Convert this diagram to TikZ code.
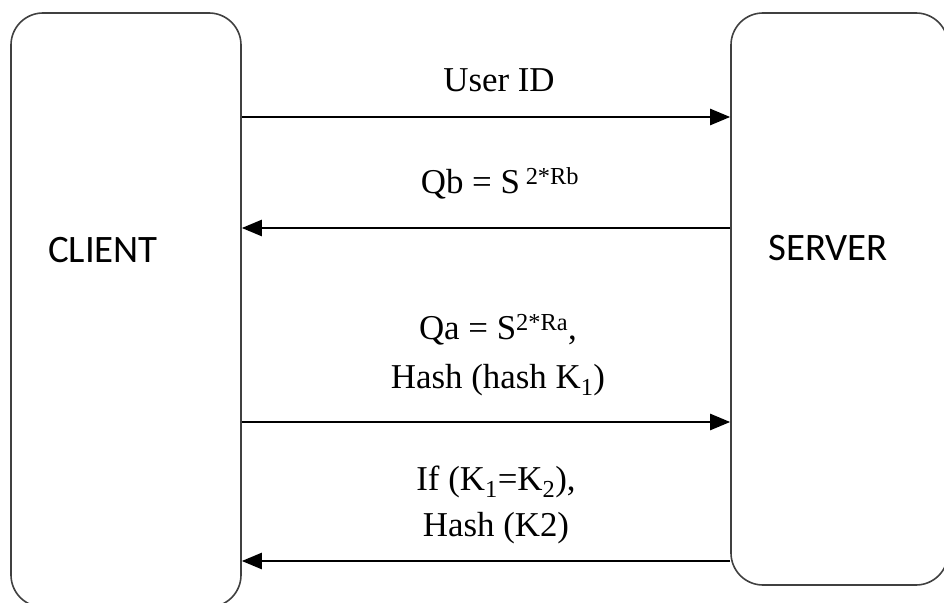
\documentclass[tikz,border=0pt]{standalone}
\usepackage{fontspec}
\setmainfont{Liberation Serif}
\newfontfamily\sidefont{Carlito}
\usetikzlibrary{arrows.meta}

\begin{document}
\begin{tikzpicture}[x=1bp,y=-1bp]
        \useasboundingbox (0,0) rectangle (944,603);
        \clip (0,0) rectangle (944,603);

        % --- Draw client and server ---
        \node[draw=black!75,line width=1.6bp,rounded corners=32bp,minimum width=230bp,minimum height=594bp,inner sep=0pt] (client) at (126,310) {};
        \node[draw=black!75,line width=1.6bp,rounded corners=32bp,minimum width=217bp,minimum height=572bp,inner sep=0pt] (server) at (839.5,299) {};
        \node[font=\sidefont\fontsize{39}{44}\selectfont] (clientName) at (103,250) {CLIENT};
        \node[font=\sidefont\fontsize{39}{44}\selectfont] (serverName) at (828,248) {SERVER};
        % ---

        % --- Draw messages ---
        \coordinate (mA) at (0,117);
        \coordinate (mB) at (0,228);
        \coordinate (mC) at (0,422);
        \coordinate (mD) at (0,561);
        \draw[line width=2.4bp,-{Triangle[length=20bp,width=16bp]}] (client.east |- mA) -- (server.west |- mA);
        \draw[line width=2.4bp,-{Triangle[length=20bp,width=16bp]}] (server.west |- mB) -- (client.east |- mB);
        \draw[line width=2.4bp,-{Triangle[length=20bp,width=16bp]}] (client.east |- mC) -- (server.west |- mC);
        \draw[line width=2.4bp,-{Triangle[length=20bp,width=16bp]}] (server.west |- mD) -- (client.east |- mD);
        % ---

        % --- Draw labels ---
        \node[font=\fontsize{35}{49}\selectfont] (labelA) at (499,80) {User ID};
        \node[font=\fontsize{35}{49}\selectfont] (labelB) at (500,183) {Qb = S\,\textsuperscript{2*Rb}};
        \node[font=\fontsize{35}{49}\selectfont,align=center] (labelC) at (498,355) {Qa = S\textsuperscript{2*Ra},\\Hash (hash K\textsubscript{1})};
        \node[font=\fontsize{35}{47}\selectfont,align=center] (labelD) at (496,505) {If (K\textsubscript{1}=K\textsubscript{2}),\\Hash (K2)};
        % ---
\end{tikzpicture}
\end{document}
